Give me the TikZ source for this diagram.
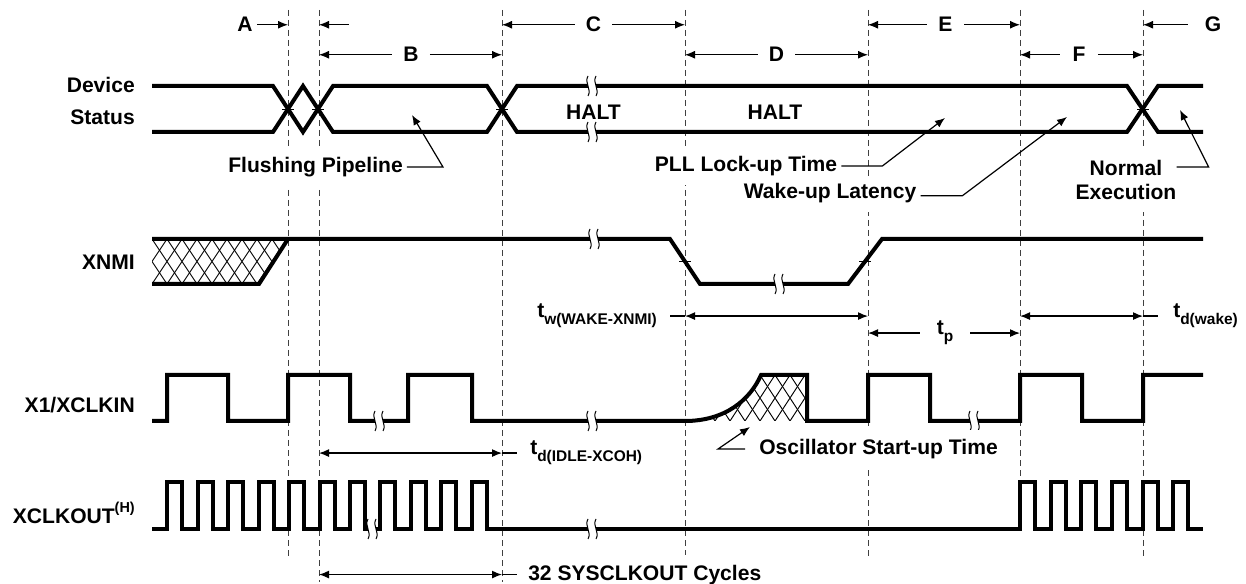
\documentclass[tikz,border=0pt]{standalone}
\usepackage{fontspec}
\setmainfont{Liberation Sans}
\usepackage{tikz}
\usetikzlibrary{arrows.meta}

\newcommand{\lowtxt}[1]{\raisebox{-5pt}{\fontsize{11.6}{12}\selectfont #1}}
\newcommand{\hightxt}[1]{\raisebox{8pt}{\fontsize{10.8}{12}\selectfont #1}}

\begin{document}
\begin{tikzpicture}[x=0.75pt, y=-0.75pt, font=\fontsize{15.8}{18}\selectfont\bfseries, >={Latex[length=7.5pt,width=6pt]}]
    % Define the styles
    \tikzstyle{sig} = [line width=3pt, line join=miter]
    \tikzstyle{guide} = [line width=0.75pt, black!75, dash pattern=on 4.5pt off 3pt]
    \tikzstyle{measure} = [line width=0.9pt]
    \tikzstyle{hatch} = [line width=0.7pt]
    \tikzstyle{crossmark} = [line width=0.7pt]
    \tikzstyle{lbl} = [inner sep=0pt]
    \tikzstyle{spanlbl} = [inner sep=0pt, anchor=base, minimum width=28pt]
    \tikzstyle{note} = [fill=white, inner sep=0pt, inner xsep=3pt, anchor=base, text height=19pt, text depth=10pt]
    \tikzset{brk/.pic={
        \fill[white] (-5,-3) rectangle (3,3);
        \draw[line width=0.75pt] (-5,-10) .. controls (-9,-3) and (-1,3) .. (-5,10)
                                 (3,-10) .. controls (-1,-3) and (7,3) .. (3,10);
    }}

    \useasboundingbox (0,0) rectangle (1246,584);

    % Guide lines
    \foreach \n/\x/\yb in {1/288/558, 2/319/582, 3/502/582, 4/685/555, 5/868/558, 6/1020/480, 7/1143/558}
        {\coordinate (g\n) at (\x,10); \draw[guide] (g\n) -- (\x,\yb);}

    % Phase labels
    \node[spanlbl, minimum width=18pt] (labA) at (245,32) {A};
    \node[spanlbl] (labB) at (411,62) {B};
    \node[spanlbl] (labC) at (593.5,32) {C};
    \node[spanlbl] (labD) at (776.5,62) {D};
    \node[spanlbl] (labE) at (945.5,32) {E};
    \node[spanlbl] (labF) at (1079,62) {F};
    \node[spanlbl, minimum width=37pt] (labG) at (1213,32) {G};

    \draw[measure, ->] (labA) -- (labA -| g1);
    \draw[measure, <-] (labA -| g2) -- ++(30,0);
    \foreach \l/\a/\b in {B/2/3, C/3/4, D/4/5, E/5/6, F/6/7}
        {\draw[measure, <-] (lab\l -| g\a) -- (lab\l);
         \draw[measure, ->] (lab\l) -- (lab\l -| g\b);}
    \draw[measure, <-] (labG -| g7) -- (labG);

    % Device Status
    \draw[sig] (152,86) -- (273,86) -- (303,132) -- (333,86) -- (487,86) -- (517,132) -- (1127,132) -- (1158,86) -- (1203,86);
    \draw[sig] (152,132) -- (273,132) -- (303,86) -- (333,132) -- (487,132) -- (517,86) -- (1127,86) -- (1158,132) -- (1203,132);
    \foreach \x in {288,318,502,1143} \draw[crossmark] (\x-6,109) -- (\x+6,109);
    \pic at (593,86) {brk};
    \pic at (593,132) {brk};
    \node[lbl, anchor=base] (halt1) at (593.5,120) {HALT};
    \node[lbl, anchor=base] (halt2) at (775,120) {HALT};

    % XNMI
    \begin{scope}
        \clip (152,239) -- (288,239) -- (259,284) -- (152,284) -- cycle;
        \foreach \x in {107,122,...,302} \draw[hatch] (\x,239) -- ++(30,45) (\x,284) -- ++(30,-45);
    \end{scope}
    \draw[sig] (152,239) -- (670,239) -- (700,284) -- (848,284) -- (882,239) -- (1203,239);
    \draw[sig] (152,284) -- (259,284) -- (288,239);
    \foreach \x in {685,865} \draw[crossmark] (\x-6,261.5) -- (\x+6,261.5);
    \pic at (595,239) {brk};
    \pic at (780,284) {brk};

    % X1/XCLKIN
    \begin{scope}
        \clip (685,421) .. controls (725,421) and (750,400) .. (761,375) -- (807,375) -- (807,421) -- cycle;
        \foreach \x in {655,670,...,805} \draw[hatch] (\x,375) -- ++(30,46) (\x,421) -- ++(30,-46);
    \end{scope}
    \draw[sig] (152,421) -- (167,421) -- (167,375) -- (228,375) -- (228,421) -- (288,421) -- (288,375) -- (350,375) -- (350,421)
        -- (408,421) -- (408,375) -- (472,375) -- (472,421) -- (685,421) .. controls (725,421) and (750,400) .. (761,375)
        -- (807,375) -- (807,421) -- (868,421) -- (868,375) -- (930,375) -- (930,421) -- (1020,421) -- (1020,375)
        -- (1082,375) -- (1082,421) -- (1143,421) -- (1143,375) -- (1203,375);
    \foreach \x in {380,593,975} \pic at (\x,421) {brk};

    % XCLKOUT
    \draw[sig] (152,529) \foreach \r in {167,197.5,228,258.5,289,319.5,350,380,410.5,441,471.5,1020,1050.5,1081,1112,1142.5,1173}
        { -- (\r,529) -- (\r,482) -- (\r+15,482) -- (\r+15,529) } -- (1203,529);
    \foreach \x in {373,593} \pic at (\x,529) {brk};

    % Signal names
    \node[lbl, anchor=east, align=right] (devst) at (135,100.5) {Device\\[6pt]Status};
    \node[lbl, anchor=base east] (xnmi) at (135,270) {XNMI};
    \node[lbl, anchor=base east] (xclkin) at (135,413) {X1/XCLKIN};
    \node[lbl, anchor=base east] (xclkout) at (135,523) {XCLKOUT\hightxt{(H)}};

    % Timing parameters
    \node[lbl, anchor=base west] (tw) at (537,318) {t\lowtxt{w(WAKE-XNMI)}};
    \draw[measure, <->] (tw.east -| g4) -- (tw.east -| g5);
    \draw[measure] (tw.east -| g4) -- ++(-15,0);
    \node[lbl, anchor=base west] (twake) at (1173,318) {t\lowtxt{d(wake)}};
    \draw[measure, <->] (twake.west -| g6) -- (twake.west -| g7);
    \draw[measure] (twake.west -| g7) -- ++(15,0);
    \node[lbl, anchor=base, minimum width=37.5pt] (tp) at (945,335) {t\lowtxt{p}};
    \draw[measure, <-] (tp -| g5) -- (tp);
    \draw[measure, ->] (tp) -- (tp -| g6);
    \node[lbl, anchor=base west] (tidle) at (530,455) {t\lowtxt{d(IDLE-XCOH)}};
    \draw[measure, <->] (tidle.west -| g2) -- (tidle.west -| g3);
    \draw[measure] (tidle.west -| g3) -- ++(15,0);
    \node[lbl, anchor=base west] (cyc) at (528,580) {32 SYSCLKOUT Cycles};
    \draw[measure, <->] (cyc.west -| g2) -- (cyc.west -| g3);
    \draw[measure] (cyc.west -| g3) -- ++(15,0);

    % Annotations
    \coordinate (flTip) at (412,115);
    \coordinate (pllTip) at (945,118);
    \coordinate (wkTip) at (1067,117);
    \coordinate (neTip) at (1180,110);
    \coordinate (oscTip) at (750,427);
    \node[note] (flush) at (315.5,173) {Flushing Pipeline};
    \draw[measure, ->] (flush.east) -- ++(36,0) -- (flTip);
    \node[note] (pll) at (746,172) {PLL Lock-up Time};
    \draw[measure, ->] (pll.east) -- ++(41,0) -- (pllTip);
    \node[note, text height=15pt] (wake) at (830,199) {Wake-up Latency};
    \draw[measure, ->] (wake.east) -- ++(42,0) -- (wkTip);
    \node[lbl, fill=white, inner ysep=9pt, align=center] (normal) at (1126,180) {Normal\\Execution};
    \draw[measure, ->] ([yshift=9.75pt]normal.east) -- ++(32,0) -- (neTip);
    \node[note] (osc) at (878.5,455) {Oscillator Start-up Time};
    \draw[measure, ->] (osc.west) ++(-10,0) -- ++(-27,0) -- (oscTip);
\end{tikzpicture}
\end{document}
